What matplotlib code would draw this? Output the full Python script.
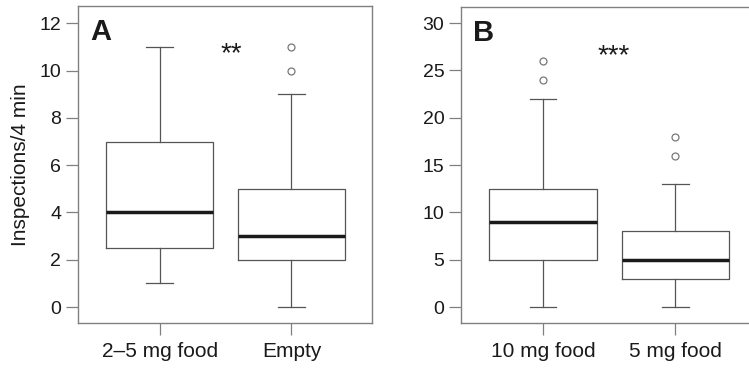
import matplotlib
matplotlib.use("Agg")
import matplotlib.pyplot as plt

plt.rcParams["font.family"] = ["Liberation Sans", "DejaVu Sans"]

# panel A: inspections per 4 min
labels_a = ["2\u20135 mg food", "Empty"]
whislo_a = [1, 0]
q1_a = [2.5, 2]
med_a = [4, 3]
q3_a = [7, 5]
whishi_a = [11, 9]
fliers_a = [[], [10, 11]]

# panel B
labels_b = ["10 mg food", "5 mg food"]
whislo_b = [0, 0]
q1_b = [5, 3]
med_b = [9, 5]
q3_b = [12.5, 8]
whishi_b = [22, 13]
fliers_b = [[24, 26], [16, 18]]

line_col = "#555555"
frame_col = "#808080"
text_col = "#1a1a1a"


def make_stats(labels, lo, q1, med, q3, hi, fl):
    return [
        dict(label=labels[i], whislo=lo[i], q1=q1[i], med=med[i], q3=q3[i],
             whishi=hi[i], fliers=fl[i])
        for i in range(len(labels))
    ]


def draw(ax, stats, ylim, yticks, letter, stars, star_x, star_y):
    ax.bxp(
        stats,
        positions=[1, 2],
        widths=0.81,
        capwidths=0.2,
        showfliers=True,
        boxprops=dict(color=line_col, linewidth=0.9),
        whiskerprops=dict(color=line_col, linewidth=0.9, linestyle="-"),
        capprops=dict(color=line_col, linewidth=0.9),
        medianprops=dict(color=text_col, linewidth=2.5, solid_capstyle="butt"),
        flierprops=dict(marker="o", markersize=5, markerfacecolor="none",
                        markeredgecolor="#777777", markeredgewidth=0.9),
    )
    ax.set_xlim(0.38, 2.61)
    ax.set_ylim(*ylim)
    ax.set_yticks(yticks)
    ax.tick_params(axis="both", direction="out", length=8.5, width=0.9,
                   color=frame_col, labelcolor=text_col)
    ax.tick_params(axis="y", labelsize=14, pad=3.5)
    ax.tick_params(axis="x", labelsize=15, pad=5)
    for sp in ax.spines.values():
        sp.set_color(frame_col)
        sp.set_linewidth(1.0)
    ax.text(0.041, 0.962, letter, transform=ax.transAxes, fontsize=21,
            fontweight="bold", va="top", ha="left", color=text_col)
    ax.text(star_x, star_y, stars, fontsize=20, ha="center", va="baseline",
            color=text_col)


fig = plt.figure(figsize=(7.49, 3.68), dpi=100)
ax_a = fig.add_axes([0.104, 0.122, 0.3925, 0.861])
ax_b = fig.add_axes([0.6155, 0.122, 0.394, 0.859])

draw(ax_a, make_stats(labels_a, whislo_a, q1_a, med_a, q3_a, whishi_a, fliers_a),
     (-0.68, 12.72), [0, 2, 4, 6, 8, 10, 12], "A", "**", 1.545, 10.38)
draw(ax_b, make_stats(labels_b, whislo_b, q1_b, med_b, q3_b, whishi_b, fliers_b),
     (-1.69, 31.7), [0, 5, 10, 15, 20, 25, 30], "B", "***", 1.53, 25.8)

ax_a.set_ylabel("Inspections/4 min", fontsize=15, color=text_col, labelpad=7)

fig.savefig("out.png", dpi=100)
